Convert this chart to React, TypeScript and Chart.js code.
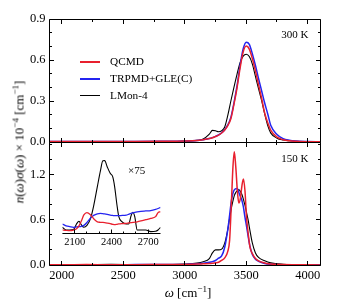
import React, { useEffect, useRef } from 'react';
import { Chart, registerables } from 'chart.js';

Chart.register(...registerables);

// ---------- data ----------
const omega300 = [1900, 2200, 2500, 2800, 3000, 3100, 3150, 3200, 3225, 3250, 3275, 3300, 3325, 3350, 3375, 3400, 3425, 3450, 3475, 3500, 3525, 3550, 3575, 3600, 3625, 3650, 3675, 3700, 3750, 3800, 3850, 3900, 4000, 4100];
const qcmd300 = [0.003, 0.003, 0.004, 0.005, 0.007, 0.011, 0.017, 0.025, 0.031, 0.04, 0.05, 0.066, 0.088, 0.12, 0.17, 0.275, 0.395, 0.54, 0.658, 0.702, 0.68, 0.61, 0.52, 0.42, 0.32, 0.212, 0.14, 0.085, 0.035, 0.017, 0.009, 0.005, 0.002, 0.001];
const trpmd300 = [0.003, 0.003, 0.004, 0.005, 0.007, 0.011, 0.017, 0.025, 0.032, 0.041, 0.052, 0.068, 0.09, 0.125, 0.18, 0.285, 0.41, 0.56, 0.68, 0.73, 0.715, 0.645, 0.56, 0.465, 0.375, 0.285, 0.205, 0.12, 0.055, 0.025, 0.013, 0.007, 0.003, 0.001];
const lmon300 = [0.002, 0.002, 0.003, 0.004, 0.006, 0.012, 0.022, 0.058, 0.085, 0.082, 0.075, 0.082, 0.11, 0.195, 0.3, 0.4, 0.495, 0.58, 0.628, 0.642, 0.625, 0.57, 0.48, 0.39, 0.305, 0.205, 0.12, 0.065, 0.028, 0.015, 0.009, 0.005, 0.002, 0.001];

const omega150 = [1900, 2000, 2200, 2400, 2600, 2800, 3000, 3100, 3150, 3200, 3225, 3250, 3275, 3300, 3325, 3350, 3365, 3380, 3392, 3403, 3415, 3428, 3440, 3452, 3465, 3477, 3490, 3502, 3515, 3530, 3550, 3575, 3600, 3650, 3700, 3800, 3900, 4000, 4100];
const qcmd150 = [0.004, 0.004, 0.005, 0.004, 0.004, 0.006, 0.008, 0.012, 0.016, 0.02, 0.024, 0.029, 0.037, 0.062, 0.095, 0.18, 0.33, 0.85, 1.3, 1.5, 1.3, 0.98, 0.82, 0.88, 1.05, 1.14, 0.98, 0.64, 0.43, 0.24, 0.15, 0.085, 0.055, 0.027, 0.012, 0.005, 0.003, 0.002, 0.001];
const trpmd150 = [0.004, 0.004, 0.004, 0.004, 0.005, 0.006, 0.008, 0.015, 0.022, 0.035, 0.045, 0.06, 0.09, 0.12, 0.235, 0.47, 0.66, 0.86, 0.95, 0.995, 1.01, 1.014, 0.96, 0.91, 0.855, 0.77, 0.63, 0.52, 0.385, 0.25, 0.14, 0.075, 0.05, 0.02, 0.01, 0.004, 0.002, 0.001, 0.001];
const lmon150 = [0.004, 0.004, 0.005, 0.008, 0.005, 0.004, 0.012, 0.025, 0.044, 0.085, 0.16, 0.2, 0.2, 0.21, 0.29, 0.47, 0.62, 0.76, 0.85, 0.92, 0.96, 0.985, 1.0, 0.975, 0.935, 0.87, 0.79, 0.7, 0.6, 0.46, 0.29, 0.16, 0.1, 0.055, 0.028, 0.01, 0.005, 0.002, 0.001];

// inset (x75 magnification, arbitrary units)
const omegaInset = [2000, 2030, 2060, 2090, 2115, 2135, 2155, 2175, 2200, 2230, 2255, 2285, 2310, 2330, 2345, 2365, 2390, 2410, 2425, 2445, 2460, 2485, 2520, 2540, 2560, 2575, 2590, 2610, 2640, 2680, 2720, 2760, 2780, 2800];
const qcmdInset = [0.04, 0.035, 0.032, 0.038, 0.055, 0.09, 0.15, 0.22, 0.248, 0.22, 0.175, 0.138, 0.132, 0.13, 0.127, 0.122, 0.115, 0.108, 0.104, 0.108, 0.112, 0.116, 0.12, 0.124, 0.128, 0.13, 0.133, 0.138, 0.148, 0.163, 0.178, 0.2, 0.248, 0.26];
const trpmdInset = [0.112, 0.09, 0.08, 0.072, 0.076, 0.08, 0.084, 0.095, 0.13, 0.185, 0.215, 0.234, 0.24, 0.236, 0.232, 0.226, 0.218, 0.214, 0.212, 0.212, 0.212, 0.214, 0.218, 0.228, 0.24, 0.246, 0.252, 0.258, 0.264, 0.268, 0.272, 0.287, 0.298, 0.312];
const lmonInset = [0.072, 0.04, 0.04, 0.045, 0.112, 0.144, 0.1, 0.072, 0.095, 0.18, 0.33, 0.56, 0.75, 0.87, 0.872, 0.8, 0.72, 0.68, 0.57, 0.34, 0.2, 0.14, 0.112, 0.112, 0.21, 0.252, 0.2, 0.04, 0.04, 0.04, 0.02, 0.024, 0.04, 0.072];

const seriesNames = ['QCMD', 'TRPMD+GLE(C)', 'LMon-4'];
const panelLabels = ['300 K', '150 K'];

const xMajor = [2000, 2500, 3000, 3500, 4000];
const xMinor = [2250, 2750, 3250, 3750];
const yTopMajor = [0, 0.3, 0.6, 0.9];
const yTopMinor = [0.1, 0.2, 0.4, 0.5, 0.7, 0.8];
const yBotMajor = [0, 0.6, 1.2];
const yBotMinor = [0.2, 0.4, 0.8, 1.0, 1.4, 1.6];
const insetMajor = [2100, 2400, 2700];
const insetMinor = [2200, 2300, 2500, 2600];

// ---------- styles ----------
const RED = '#e8202e';
const BLUE = '#2424f0';
const BLACK = '#000000';
const COLORS = [RED, BLUE, BLACK];
const WIDTHS = [1.5, 1.5, 1.1];
const FONT = "'Liberation Serif', 'Times New Roman', serif";
const W = 337;
const H = 304;

const pts = (xs: number[], ys: number[]) => xs.map((x, i) => ({ x, y: ys[i] }));

const ds = (label: string, data: any[], i: number, yAxisID: string, bw?: number) => ({
  label,
  data,
  yAxisID,
  borderColor: COLORS[i],
  backgroundColor: COLORS[i],
  borderWidth: bw ?? WIDTHS[i],
  pointRadius: 0,
  fill: false,
  cubicInterpolationMode: 'monotone' as const,
});

const crisp = (v: number) => Math.round(v - 0.5) + 0.5;

const framePlugin = {
  id: 'frameTicks',
  afterDatasetsDraw(chart: any) {
    const { ctx, chartArea } = chart;
    const xs = chart.scales.x;
    const L = crisp(chartArea.left);
    const R = crisp(chartArea.right);
    const panels: [any, number[], number[]][] = [
      [chart.scales.yTop, yTopMajor, yTopMinor],
      [chart.scales.yBot, yBotMajor, yBotMinor],
    ];
    ctx.save();
    ctx.strokeStyle = '#000';
    ctx.lineWidth = 1;
    const MJ = 4.5;
    const MN = 2.5;
    for (const [ys, major, minor] of panels) {
      const T = crisp(ys.top);
      const B = crisp(ys.bottom);
      ctx.beginPath();
      ctx.rect(L, T, R - L, B - T);
      const yt = (vals: number[], len: number) => {
        for (const v of vals) {
          const p = crisp(ys.getPixelForValue(v));
          ctx.moveTo(L, p); ctx.lineTo(L + len, p);
          ctx.moveTo(R, p); ctx.lineTo(R - len, p);
        }
      };
      const xt = (vals: number[], len: number) => {
        for (const v of vals) {
          const p = crisp(xs.getPixelForValue(v));
          ctx.moveTo(p, T); ctx.lineTo(p, T + len);
          ctx.moveTo(p, B); ctx.lineTo(p, B - len);
        }
      };
      yt(major, MJ); yt(minor, MN);
      xt(xMajor, MJ); xt(xMinor, MN);
      ctx.stroke();
    }
    ctx.restore();
  },
};

const insetPlugin = {
  id: 'insetAxis',
  afterDatasetsDraw(chart: any) {
    const { ctx, chartArea } = chart;
    const xs = chart.scales.x;
    const B = crisp(chartArea.bottom);
    ctx.save();
    ctx.strokeStyle = '#000';
    ctx.lineWidth = 1;
    ctx.beginPath();
    ctx.moveTo(chartArea.left, B); ctx.lineTo(chartArea.right, B);
    for (const v of insetMajor) {
      const p = crisp(xs.getPixelForValue(v));
      ctx.moveTo(p, B); ctx.lineTo(p, B - 4);
    }
    for (const v of insetMinor) {
      const p = crisp(xs.getPixelForValue(v));
      ctx.moveTo(p, B); ctx.lineTo(p, B - 2);
    }
    ctx.stroke();
    ctx.restore();
  },
};

const tickFont = { family: FONT, size: 12.5 };
const plain = (v: any) => String(v);
const oneDec = (v: any) => Number(v).toFixed(1);

export default function App() {
  const mainRef = useRef<HTMLCanvasElement>(null);
  const insetRef = useRef<HTMLCanvasElement>(null);

  useEffect(() => {
    const main = new Chart(mainRef.current as HTMLCanvasElement, {
      type: 'line',
      data: {
        datasets: [
          ds(seriesNames[0], pts(omega300, qcmd300), 0, 'yTop'),
          ds(seriesNames[1], pts(omega300, trpmd300), 1, 'yTop'),
          ds(seriesNames[2], pts(omega300, lmon300), 2, 'yTop'),
          ds(seriesNames[0], pts(omega150, qcmd150), 0, 'yBot'),
          ds(seriesNames[1], pts(omega150, trpmd150), 1, 'yBot'),
          ds(seriesNames[2], pts(omega150, lmon150), 2, 'yBot'),
        ],
      },
      options: {
        responsive: false,
        maintainAspectRatio: false,
        animation: false,
        events: [],
        layout: { padding: { left: 0, right: 17, top: 19, bottom: 0 } },
        plugins: { legend: { display: false }, tooltip: { enabled: false } },
        scales: {
          x: {
            type: 'linear',
            position: 'bottom',
            min: 1900,
            max: 4100,
            grid: { display: false, drawTicks: false },
            border: { display: false },
            ticks: { font: tickFont, color: '#000', padding: 3, maxRotation: 0, autoSkip: false, callback: plain },
            afterBuildTicks: (s: any) => { s.ticks = xMajor.map((v) => ({ value: v })); },
            afterFit: (s: any) => { s.height = 39; },
          },
          yBot: {
            type: 'linear',
            position: 'left',
            stack: 'panels',
            stackWeight: 1,
            min: 0,
            max: 1.63,
            grid: { display: false, drawTicks: false },
            border: { display: false },
            ticks: { font: tickFont, color: '#000', padding: 4, autoSkip: false, callback: oneDec },
            afterBuildTicks: (s: any) => { s.ticks = yBotMajor.map((v) => ({ value: v })); },
            afterFit: (s: any) => { s.width = 49.5; },
          },
          yTop: {
            type: 'linear',
            position: 'left',
            stack: 'panels',
            stackWeight: 1,
            min: 0,
            max: 0.9,
            grid: { display: false, drawTicks: false },
            border: { display: false },
            ticks: { font: tickFont, color: '#000', padding: 4, autoSkip: false, callback: oneDec },
            afterBuildTicks: (s: any) => { s.ticks = yTopMajor.map((v) => ({ value: v })); },
            afterFit: (s: any) => { s.width = 49.5; },
          },
        },
      } as any,
      plugins: [framePlugin],
    });

    const inset = new Chart(insetRef.current as HTMLCanvasElement, {
      type: 'line',
      data: {
        datasets: [
          ds(seriesNames[0], pts(omegaInset, qcmdInset), 0, 'y', 1.3),
          ds(seriesNames[1], pts(omegaInset, trpmdInset), 1, 'y', 1.3),
          ds(seriesNames[2], pts(omegaInset, lmonInset), 2, 'y', 1.1),
        ],
      },
      options: {
        responsive: false,
        maintainAspectRatio: false,
        animation: false,
        events: [],
        layout: { padding: { left: 62.4, right: W - 160.5, top: 150, bottom: H - 233.3 - 20 } },
        plugins: { legend: { display: false }, tooltip: { enabled: false } },
        scales: {
          x: {
            type: 'linear',
            min: 2000,
            max: 2800,
            grid: { display: false, drawTicks: false },
            border: { display: false },
            ticks: { font: { family: FONT, size: 10.5 }, color: '#000', padding: 3, maxRotation: 0, autoSkip: false, callback: plain },
            afterBuildTicks: (s: any) => { s.ticks = insetMajor.map((v) => ({ value: v })); },
            afterFit: (s: any) => { s.height = 20; },
          },
          y: { display: false, min: 0, max: 1 },
        },
      } as any,
      plugins: [insetPlugin],
    });

    return () => {
      main.destroy();
      inset.destroy();
    };
  }, []);

  const abs: React.CSSProperties = { position: 'absolute', whiteSpace: 'nowrap', fontFamily: FONT, color: '#000', lineHeight: 1 };
  const sup: React.CSSProperties = { fontSize: '0.7em', verticalAlign: '0.5em', lineHeight: 0 };
  const legendRows = [62, 78.7, 95.3];

  return (
    <div style={{ position: 'fixed', left: 0, top: 0, width: W, height: H, background: '#fff', overflow: 'hidden' }}>
      <canvas ref={mainRef} width={W} height={H} style={{ position: 'absolute', left: 0, top: 0, width: W, height: H }} />
      <canvas ref={insetRef} width={W} height={H} style={{ position: 'absolute', left: 0, top: 0, width: W, height: H, pointerEvents: 'none' }} />

      {seriesNames.map((name, i) => (
        <div key={name} style={{ ...abs, left: 80, top: legendRows[i] - 7, height: 14, display: 'flex', alignItems: 'center', fontSize: 11.3 }}>
          <span style={{ display: 'inline-block', width: 20, height: i === 2 ? 1.3 : 2, background: COLORS[i], marginRight: 10 }} />
          <span>{name}</span>
        </div>
      ))}

      <div style={{ ...abs, right: W - 308.5, top: 33.5, transform: 'translateY(-50%)', fontSize: 11 }}>{panelLabels[0]}</div>
      <div style={{ ...abs, right: W - 308.5, top: 158, transform: 'translateY(-50%)', fontSize: 11 }}>{panelLabels[1]}</div>
      <div style={{ ...abs, left: 136.7, top: 170, transform: 'translate(-50%,-50%)', fontSize: 11 }}>×75</div>

      <div style={{ ...abs, left: 188, top: 291.5, transform: 'translate(-50%,-50%)', fontSize: 13 }}>
        <i>ω</i> [cm<span style={sup}>−1</span>]
      </div>
      <div style={{ ...abs, left: 19, top: 141.5, transform: 'translate(-50%,-50%) rotate(-90deg)', fontSize: 13 }}>
        <i>n</i>(<i>ω</i>)<i>σ</i>(<i>ω</i>) × 10<span style={sup}>−4</span> [cm<span style={sup}>−1</span>]
      </div>
    </div>
  );
}
